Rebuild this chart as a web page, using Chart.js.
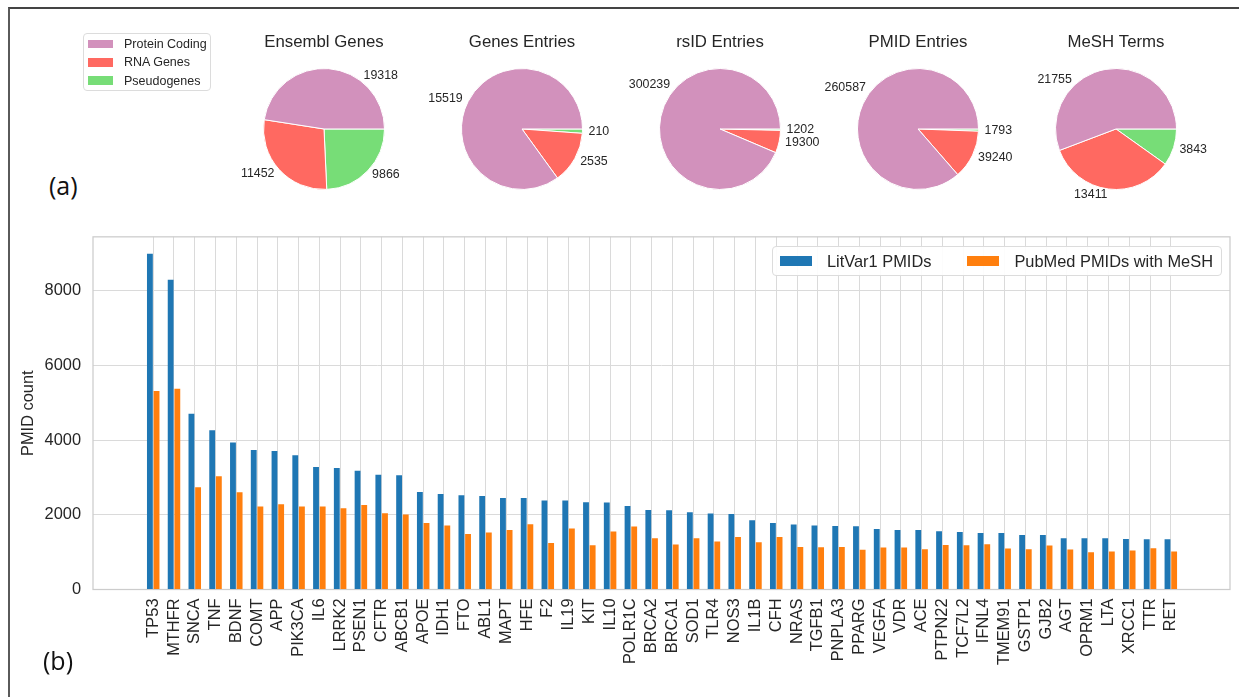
<!DOCTYPE html>
<html>
<head>
<meta charset="utf-8">
<title>LitVar gene statistics</title>
<script src="https://cdn.jsdelivr.net/npm/chart.js@4"></script>
<style>
  html, body {
    margin: 0;
    padding: 0;
    background: #fff;
  }
  #page {
    position: relative;
    width: 1239px;
    height: 697px;
    overflow: hidden;
    font-family: "Liberation Sans", Arial, sans-serif;
    color: #262626;
  }
  #frame {
    position: absolute;
    left: 8px;
    top: 7px;
    right: -10px;
    bottom: -10px;
    border-left: 2px solid #5a5a5a;
    border-top: 2px solid #444;
  }
  canvas {
    position: absolute;
  }
  .panel-tag {
    position: absolute;
    font-family: "Open Sans", "Noto Sans", sans-serif;
    font-size: 25px;
    line-height: 30px;
    color: #111;
  }
  .legend-box {
    position: absolute;
    background: rgba(255, 255, 255, 0.9);
    border: 1px solid #dcdcdc;
    border-radius: 4px;
    box-sizing: border-box;
  }
  #pieLegend {
    left: 83px;
    top: 33px;
    width: 128px;
    height: 58px;
    padding-top: 1px;
    font-size: 12.5px;
  }
  #pieLegend .row {
    display: flex;
    align-items: center;
    height: 18.3px;
  }
  #pieLegend .swatch {
    width: 25px;
    height: 8.5px;
    margin-left: 4px;
    margin-right: 11px;
  }
  #barLegend {
    right: 17px;
    top: 246px;
    height: 30px;
    display: flex;
    align-items: center;
    padding: 0 8px 0 7px;
    font-size: 16.4px;
  }
  #barLegend .item {
    display: flex;
    align-items: center;
  }
  #barLegend .item + .item {
    margin-left: 36px;
  }
  #barLegend .swatch {
    width: 32px;
    height: 10px;
    margin-right: 15px;
  }
</style>
</head>
<body>
<div id="page">
  <div id="frame"></div>
  <canvas id="barChart" width="1239" height="482" style="left:0;top:215px"></canvas>
  <div id="pies"></div>
  <div class="legend-box" id="pieLegend"></div>
  <div class="legend-box" id="barLegend"></div>
  <div class="panel-tag" style="left:49px;top:170px">(a)</div>
  <div class="panel-tag" style="left:43px;top:645px">(b)</div>
</div>

<script>
// ---- panel (a): pie charts ----
const PIE_TITLES = ["Ensembl Genes", "Genes Entries", "rsID Entries", "PMID Entries", "MeSH Terms"];
const PIE_CATEGORIES = ["Protein Coding", "RNA Genes", "Pseudogenes"];
const PROTEIN_CODING = [19318, 15519, 300239, 260587, 21755];
const RNA_GENES = [11452, 2535, 19300, 39240, 13411];
const PSEUDOGENES = [9866, 210, 1202, 1793, 3843];

// ---- panel (b): PMIDs per gene ----
const GENES = [
  "TP53", "MTHFR", "SNCA", "TNF", "BDNF", "COMT", "APP", "PIK3CA", "IL6", "LRRK2",
  "PSEN1", "CFTR", "ABCB1", "APOE", "IDH1", "FTO", "ABL1", "MAPT", "HFE", "F2",
  "IL19", "KIT", "IL10", "POLR1C", "BRCA2", "BRCA1", "SOD1", "TLR4", "NOS3", "IL1B",
  "CFH", "NRAS", "TGFB1", "PNPLA3", "PPARG", "VEGFA", "VDR", "ACE", "PTPN22", "TCF7L2",
  "IFNL4", "TMEM91", "GSTP1", "GJB2", "AGT", "OPRM1", "LTA", "XRCC1", "TTR", "RET"
];
const LITVAR_PMIDS = [
  9000, 8300, 4712, 4265, 3940, 3739, 3710, 3600, 3280, 3255,
  3180, 3075, 3060, 2615, 2562, 2525, 2508, 2454, 2454, 2383,
  2383, 2338, 2329, 2240, 2133, 2124, 2070, 2035, 2026, 1856,
  1785, 1740, 1713, 1704, 1695, 1624, 1597, 1597, 1562, 1544,
  1517, 1517, 1463, 1463, 1374, 1374, 1374, 1356, 1347, 1347
];
const PUBMED_MESH_PMIDS = [
  5317, 5382, 2739, 3034, 2605, 2222, 2284, 2222, 2222, 2177,
  2267, 2043, 2008, 1785, 1713, 1490, 1526, 1597, 1749, 1249,
  1633, 1187, 1553, 1687, 1374, 1205, 1374, 1285, 1410, 1267,
  1410, 1142, 1133, 1142, 1062, 1124, 1124, 1080, 1195, 1187,
  1214, 1098, 1080, 1178, 1071, 999, 1017, 1044, 1106, 1017
];
const Y_TICKS = [0, 2000, 4000, 6000, 8000];

// styling / layout
const FONT = "'Liberation Sans', Arial, sans-serif";
const TEXT = "#262626";
const PIE_COLORS = ["#d291bc", "#ff6961", "#77dd77"];
const BAR_COLORS = ["#1f77b4", "#ff7f0e"];
const GRID = "#dadada";
const PIE_CENTERS_X = [324, 522, 720, 918, 1116];
// the big slice label was placed by hand in the original (degrees, counter-clockwise from 3 o'clock)
const PROTEIN_LABEL_ANGLE = [53.6, null, 138.5, 141.5, 131.5];

Chart.defaults.font.family = FONT;
Chart.defaults.color = TEXT;

const sliceLabels = {
  id: "sliceLabels",
  afterDatasetsDraw(chart, args, opts) {
    const ctx = chart.ctx;
    const values = chart.data.datasets[0].data;
    const arcs = chart.getDatasetMeta(0).data;
    ctx.save();
    ctx.font = `${opts.size}px ${FONT}`;
    ctx.fillStyle = TEXT;
    ctx.textBaseline = "middle";
    arcs.forEach((arc, i) => {
      const p = arc.getProps(["x", "y", "startAngle", "endAngle", "outerRadius"], true);
      let a = (p.startAngle + p.endAngle) / 2;
      if (opts.angles[i] != null) a = -opts.angles[i] * Math.PI / 180;
      const r = p.outerRadius * 1.1;
      ctx.textAlign = Math.cos(a) >= 0 ? "left" : "right";
      ctx.fillText(String(values[i]), p.x + Math.cos(a) * r, p.y + Math.sin(a) * r);
    });
    ctx.restore();
  }
};

function drawPie(k) {
  const canvas = document.createElement("canvas");
  canvas.width = 230;
  canvas.height = 215;
  canvas.style.left = (PIE_CENTERS_X[k] - 115) + "px";
  canvas.style.top = "0px";
  document.getElementById("pies").appendChild(canvas);

  // matplotlib draws counter-clockwise from 3 o'clock, Chart.js clockwise: feed reversed
  const values = [PSEUDOGENES[k], RNA_GENES[k], PROTEIN_CODING[k]];
  const colors = PIE_COLORS.slice().reverse();

  new Chart(canvas, {
    type: "pie",
    data: {
      labels: PIE_CATEGORIES.slice().reverse(),
      datasets: [{
        data: values,
        backgroundColor: colors,
        borderColor: "#ffffff",
        borderWidth: 1
      }]
    },
    options: {
      responsive: false,
      animation: false,
      rotation: 90,
      layout: { padding: { left: 54, right: 54, top: 0, bottom: 25 } },
      plugins: {
        legend: { display: false },
        tooltip: { enabled: false },
        title: {
          display: true,
          text: PIE_TITLES[k],
          color: TEXT,
          font: { size: 16.8, weight: "normal", lineHeight: 1.2 },
          padding: { top: 32, bottom: 15.8 }
        },
        sliceLabels: { size: 12.4, angles: [null, null, PROTEIN_LABEL_ANGLE[k]] }
      }
    },
    plugins: [sliceLabels]
  });
}

PIE_TITLES.forEach((t, k) => drawPie(k));

const pieLegend = document.getElementById("pieLegend");
PIE_CATEGORIES.forEach((name, i) => {
  const row = document.createElement("div");
  row.className = "row";
  row.innerHTML = `<span class="swatch" style="background:${PIE_COLORS[i]}"></span><span>${name}</span>`;
  pieLegend.appendChild(row);
});

// ---- bar chart ----
const plotFrame = {
  id: "plotFrame",
  beforeDatasetsDraw(chart) {
    const { ctx, chartArea: a } = chart;
    ctx.save();
    ctx.strokeStyle = "#cccccc";
    ctx.lineWidth = 1.25;
    ctx.strokeRect(a.left, a.top, a.right - a.left, a.bottom - a.top);
    ctx.restore();
  }
};

const barDatasets = [
  { label: "LitVar1 PMIDs", values: LITVAR_PMIDS },
  { label: "PubMed PMIDs with MeSH", values: PUBMED_MESH_PMIDS }
].map((d, j) => ({
  label: d.label,
  data: d.values.map((v, i) => ({ x: i, y: v })),
  backgroundColor: BAR_COLORS[j],
  borderWidth: 0,
  categoryPercentage: 0.64,
  barPercentage: 0.88
}));

const tickFont = { size: 16.4 };

new Chart(document.getElementById("barChart"), {
  type: "bar",
  data: { datasets: barDatasets },
  options: {
    responsive: false,
    animation: false,
    layout: { padding: { top: 21.5, right: 9, left: 0, bottom: 0 } },
    plugins: {
      legend: { display: false },
      tooltip: { enabled: false }
    },
    scales: {
      x: {
        type: "linear",
        offset: false,
        min: -2.9,
        max: 51.85,
        afterBuildTicks: axis => { axis.ticks = GENES.map((g, i) => ({ value: i })); },
        afterFit: axis => { axis.height = 107.5; },
        grid: { color: GRID, lineWidth: 1, drawTicks: false, offset: false },
        border: { display: false },
        ticks: {
          autoSkip: false,
          minRotation: 90,
          maxRotation: 90,
          padding: 9,
          color: TEXT,
          font: tickFont,
          callback: v => GENES[v]
        }
      },
      y: {
        min: 0,
        max: 9450,
        afterBuildTicks: axis => { axis.ticks = Y_TICKS.map(v => ({ value: v })); },
        afterFit: axis => { axis.width = 93; },
        grid: { color: GRID, lineWidth: 1, drawTicks: false },
        border: { display: false },
        ticks: { padding: 12, color: TEXT, font: tickFont, callback: v => String(v) },
        title: {
          display: true,
          text: "PMID count",
          color: TEXT,
          font: { size: 16.4, lineHeight: 1.2 },
          padding: { top: 19, bottom: 0 }
        }
      }
    }
  },
  plugins: [plotFrame]
});

const barLegend = document.getElementById("barLegend");
barDatasets.forEach(ds => {
  const item = document.createElement("div");
  item.className = "item";
  item.innerHTML = `<span class="swatch" style="background:${ds.backgroundColor}"></span><span>${ds.label}</span>`;
  barLegend.appendChild(item);
});
</script>
</body>
</html>
